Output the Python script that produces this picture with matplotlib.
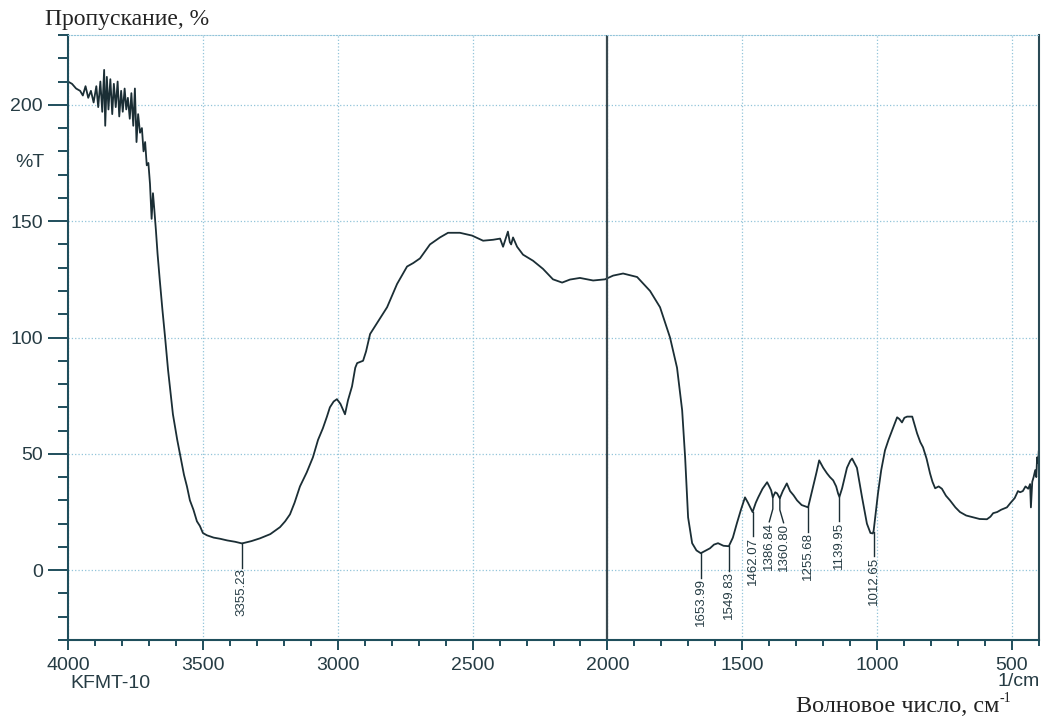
import numpy as np
import matplotlib.pyplot as plt
from matplotlib.ticker import MultipleLocator
import matplotlib.transforms as mtransforms

# IR spectrum, KFMT-10
wavenumber = [4000, 3985, 3970, 3955, 3945, 3935, 3925, 3915, 3905, 3895,
              3888, 3880, 3873, 3866, 3862, 3856, 3850, 3843, 3836, 3830,
              3823, 3816, 3810, 3803, 3797, 3790, 3784, 3778, 3771, 3765,
              3758, 3752, 3746, 3740, 3733, 3726, 3720, 3714, 3708, 3702,
              3696, 3690, 3685, 3680, 3674, 3668, 3660, 3650, 3640, 3629,
              3611, 3595, 3585, 3570, 3559, 3548, 3535, 3522, 3511, 3500,
              3485, 3460, 3436, 3410, 3380, 3355, 3320, 3288, 3250, 3214,
              3195, 3177, 3160, 3140, 3115, 3092, 3073, 3055, 3040, 3029,
              3015, 3003, 2990, 2973, 2962, 2947, 2935, 2928, 2906, 2895,
              2880, 2850, 2817, 2780, 2743, 2720, 2695, 2658, 2621, 2591,
              2547, 2502, 2461, 2424, 2398, 2387, 2369, 2362, 2357, 2350,
              2335, 2313, 2276, 2239, 2202, 2168, 2139, 2102, 2053, 2009,
              1979, 1942, 1890, 1842, 1805, 1768, 1742, 1723, 1712, 1701,
              1686, 1670, 1654, 1635, 1620, 1605, 1590, 1570, 1550, 1535,
              1520, 1505, 1490, 1479, 1462, 1450, 1441, 1425, 1408, 1400,
              1393, 1387, 1378, 1371, 1361, 1350, 1335, 1323, 1310, 1297,
              1280, 1256, 1238, 1225, 1215, 1200, 1186, 1175, 1163, 1152,
              1145, 1140, 1130, 1112, 1100, 1093, 1075, 1056, 1038, 1025,
              1016, 1013, 1008, 997, 985, 971, 958, 945, 935, 926,
              918, 908, 899, 889, 870, 860, 852, 840, 830, 817,
              804, 795, 785, 772, 760, 745, 730, 710, 693, 670,
              644, 620, 593, 580, 570, 555, 540, 519, 505, 490,
              478, 470, 460, 450, 440, 433, 430, 425, 420, 414,
              410, 407, 403, 401]
transmittance = [210, 209, 207, 206, 204, 208, 203, 206, 201, 208,
                 199, 210, 197, 215, 191, 212, 198, 211, 196, 209,
                 199, 210, 195, 206, 197, 207, 198, 203, 194, 205,
                 191, 207, 184, 196, 188, 190, 180, 184, 174, 175,
                 166, 151, 162, 155, 146, 136, 125, 112, 100, 86,
                 67, 56, 50, 41, 36, 30, 26, 21, 19, 16,
                 15, 14, 13.5, 12.8, 12.2, 11.5, 12.5, 13.7, 15.5, 18.5,
                 21, 24, 29, 36, 42, 48.5, 56, 61, 66, 70,
                 72.5, 73.5, 71.5, 67, 73, 79, 87, 89, 90, 94,
                 101.5, 107, 113, 123, 130.5, 132, 134, 140, 143, 145,
                 145, 143.8, 141.6, 142, 142.5, 139, 145.5, 141, 140, 143,
                 139, 135.6, 133, 129.5, 125, 123.6, 124.9, 125.6, 124.5, 125,
                 126.6, 127.5, 126, 120, 113, 100, 87, 68.7, 48.5, 22.7,
                 11.6, 8.5, 7.3, 8.5, 9.4, 11, 11.6, 10.5, 10.3, 14,
                 20.2, 26, 31.3, 29, 25, 29, 31.3, 35, 37.8, 36,
                 34.3, 31.3, 33.5, 33, 30.9, 34, 37.3, 34, 32.2, 30,
                 28, 27, 35.6, 42, 47.2, 44, 41.6, 40, 38.6, 36,
                 33, 31.5, 35.2, 44, 47, 48, 44, 31.3, 20, 16,
                 15.8, 17, 22, 33, 43, 51.5, 56, 60, 63, 65.7,
                 65, 63.5, 65.5, 66, 66, 62, 58.8, 55, 52.8, 48,
                 41.6, 38, 35.2, 36, 35, 32, 30, 27, 25, 23.5,
                 22.7, 22, 21.9, 23, 24.5, 25, 26, 27, 29, 31,
                 34, 33.5, 34, 36, 35, 37, 27, 38, 40, 43,
                 40, 48.5, 46, 51]

peak_pos = [3355.23, 1653.99, 1549.83, 1462.07, 1386.84, 1360.80,
            1255.68, 1139.95, 1012.65]
peak_val = [11.5, 7.3, 10.3, 25, 31.3, 30.9, 27, 31.5, 16.5]
# where the label hangs, a little apart for the two close peaks
label_pos = [3355.23, 1653.99, 1549.83, 1462.07, 1400, 1347,
             1255.68, 1139.95, 1012.65]

line_col = '#1b2e35'
axis_col = '#1f4e5c'
grid_col = '#92c4d9'
text_col = '#263c44'

fig = plt.figure(figsize=(10.42, 7.19), dpi=100)
ax = fig.add_axes([68 / 1042, 1 - 640 / 719, (1039 - 68) / 1042, (640 - 35) / 719])

ax.plot(wavenumber, transmittance, color=line_col, linewidth=1.3)

for x, y, lx in zip(peak_pos, peak_val, label_pos):
    ax.plot([x, x, lx], [y, y - 5, y - 10.5], color=line_col, linewidth=1.0)
    ax.text(lx, y - 10.8, "%.2f" % x, rotation=90, ha='center', va='top',
            fontsize=9.5, family='Liberation Sans', color=text_col)

ax.set_xlim(4000, 400)
ax.set_ylim(-30, 230)

ax.xaxis.set_major_locator(MultipleLocator(500))
ax.xaxis.set_minor_locator(MultipleLocator(100))
ax.yaxis.set_major_locator(MultipleLocator(50))
ax.yaxis.set_minor_locator(MultipleLocator(10))

ax.grid(True, which='major', color=grid_col, linestyle=':', linewidth=0.9)
ax.axvline(2000, color='#3a4a50', linewidth=1.6)

for side in ['left', 'bottom', 'right']:
    ax.spines[side].set_color(axis_col)
    ax.spines[side].set_linewidth(1.5)
ax.spines['right'].set_color('#2a4a55')
ax.spines['top'].set_color(grid_col)
ax.spines['top'].set_linewidth(0.8)
ax.spines['top'].set_linestyle(':')

ax.tick_params(axis='both', which='both', direction='out', width=1.4,
               color=axis_col, labelsize=14, labelcolor=text_col)
ax.tick_params(axis='x', which='major', length=7.2, pad=5)
ax.tick_params(axis='x', which='minor', length=4.3)
ax.tick_params(axis='y', which='major', length=14.4, pad=3.6)
ax.tick_params(axis='y', which='minor', length=7.2)
for lab in ax.get_xticklabels() + ax.get_yticklabels():
    lab.set_family('Liberation Sans')

trans = mtransforms.blended_transform_factory(fig.transFigure, ax.transData)
ax.text(30 / 1042, 175, "%T", transform=trans, ha='center', va='center',
        fontsize=14, family='Liberation Sans', color=text_col)

fig.text(70 / 1042, 1 - 683 / 719, "KFMT-10", ha='left', va='center',
         fontsize=14, family='Liberation Sans', color=text_col)
fig.text(1040 / 1042, 1 - 681 / 719, "1/cm", ha='right', va='center',
         fontsize=14, family='Liberation Sans', color=text_col)

fig.text(45 / 1042, 1 - 20 / 719, "Пропускание, %", ha='left', va='center',
         fontsize=17, family='Liberation Serif', color='#222222')
fig.text(999 / 1042, 1 - 707 / 719, "Волновое число, см", ha='right', va='center',
         fontsize=17.5, family='Liberation Serif', color='#222222')
fig.text(1000 / 1042, 1 - 698 / 719, "-1", ha='left', va='center',
         fontsize=10, family='Liberation Serif', color='#222222')

fig.savefig("out.png", dpi=100)
